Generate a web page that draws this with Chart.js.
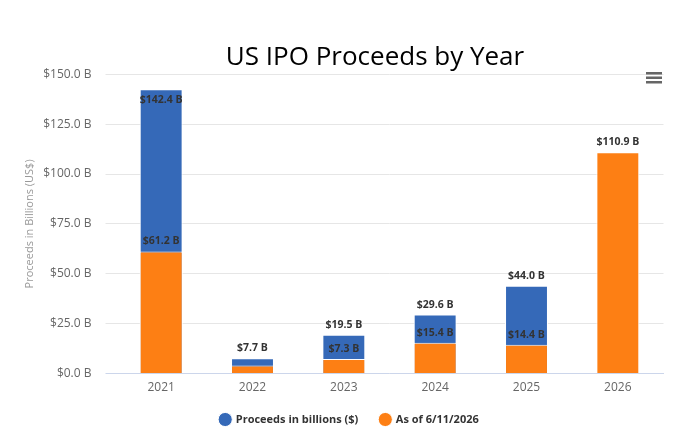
<!DOCTYPE html>
<html>
<head>
<meta charset="utf-8">
<script src="https://cdn.jsdelivr.net/npm/chart.js@4.4.1/dist/chart.umd.min.js"></script>
<style>
  html, body { margin: 0; padding: 0; background: #fff; }
  #wrap { width: 680px; height: 436px; }
</style>
</head>
<body>
<div id="wrap"><canvas id="ipoChart"></canvas></div>
<script>
// data
const years = ['2021', '2022', '2023', '2024', '2025', '2026'];
const fullYear = [142.4, 7.7, 19.5, 29.6, 44.0, null];
const toDate = [61.2, 4.0, 7.3, 15.4, 14.4, 110.9];
const yTicks = [0, 25, 50, 75, 100, 125, 150];

const BLUE = '#3569b8';
const ORANGE = '#fd7f14';

function fmt(v) {
    return '$' + v.toFixed(1) + ' B';
}

// value labels above the bars, hidden when they collide
const barLabels = {
    id: 'barLabels',
    afterDatasetsDraw(chart) {
        const ctx = chart.ctx;
        const area = chart.chartArea;
        const placed = {};
        ctx.save();
        ctx.font = 'bold 10.5px "Open Sans", sans-serif';
        ctx.fillStyle = '#333';
        ctx.textAlign = 'center';
        ctx.textBaseline = 'middle';
        chart.data.datasets.forEach((ds, di) => {
            const meta = chart.getDatasetMeta(di);
            meta.data.forEach((bar, i) => {
                const v = ds.data[i];
                if (v == null) return;
                let y = bar.y - 10;
                if (bar.y - 20 < area.top) y = bar.y + 11; // no room above, put inside
                const prev = placed[i];
                if (prev !== undefined && Math.abs(prev - y) < 12) return;
                placed[i] = y;
                ctx.fillText(fmt(v), bar.x, y);
            });
        });
        ctx.restore();
    }
};

// nudge title and legend sideways like the original, plus the menu icon
const extras = {
    id: 'extras',
    afterLayout(chart) {
        chart.titleBlock.left = 86.5;
        chart.legend.left += 12;
    },
    afterDraw(chart) {
        const ctx = chart.ctx;
        ctx.save();
        ctx.fillStyle = '#666';
        [72, 76.5, 81].forEach(y => ctx.fillRect(646, y, 16, 2.5));
        ctx.restore();
    }
};

const ctx = document.getElementById('ipoChart').getContext('2d');
const chart = new Chart(ctx, {
    type: 'bar',
    data: {
        labels: years,
        datasets: [
            {
                label: 'Proceeds in billions ($)',
                data: fullYear,
                backgroundColor: BLUE,
                borderColor: '#fff',
                borderWidth: 1,
                grouped: false,
                order: 2,
                barPercentage: 0.47,
                categoryPercentage: 1
            },
            {
                label: 'As of 6/11/2026',
                data: toDate,
                backgroundColor: ORANGE,
                borderColor: '#fff',
                borderWidth: 1,
                grouped: false,
                order: 1,
                barPercentage: 0.47,
                categoryPercentage: 1
            }
        ]
    },
    options: {
        responsive: true,
        maintainAspectRatio: false,
        animation: false,
        layout: { padding: { left: 23.5, right: 16.5, top: 0, bottom: 1 } },
        plugins: {
            title: {
                display: true,
                text: 'US IPO Proceeds by Year',
                color: '#000',
                font: { family: '"Open Sans", sans-serif', size: 26, weight: 'normal' },
                padding: { top: 42, bottom: 1 }
            },
            legend: {
                position: 'bottom',
                labels: {
                    usePointStyle: true,
                    pointStyle: 'circle',
                    boxWidth: 10,
                    boxHeight: 10,
                    padding: 22,
                    color: '#333',
                    font: { family: '"Open Sans", sans-serif', size: 11, weight: 'bold' },
                    sort: (a, b) => a.datasetIndex - b.datasetIndex
                }
            },
            tooltip: { enabled: false }
        },
        scales: {
            x: {
                grid: { display: false, drawTicks: false },
                border: { color: '#ccd6eb' },
                afterFit(scale) { scale.height -= 10; },
                ticks: {
                    color: '#666',
                    padding: 7,
                    font: { family: '"Open Sans", sans-serif', size: 12 }
                }
            },
            y: {
                min: 0,
                max: 150,
                afterBuildTicks(scale) {
                    scale.ticks = yTicks.map(v => ({ value: v }));
                },
                afterFit(scale) { scale.width = 92; },
                grid: {
                    color: '#e6e6e6',
                    drawTicks: true,
                    tickLength: 10,
                    tickColor: c => (c.tick && c.tick.value === 0 ? '#ccd6eb' : '#e6e6e6')
                },
                border: { display: false },
                ticks: {
                    color: '#666',
                    padding: 14,
                    font: { family: '"Open Sans", sans-serif', size: 12 },
                    callback: v => fmt(v)
                },
                title: {
                    display: true,
                    text: 'Proceeds in Billions (US$)',
                    color: '#999',
                    padding: 0,
                    font: { family: '"Open Sans", sans-serif', size: 11 }
                }
            }
        }
    },
    plugins: [barLabels, extras]
});
</script>
</body>
</html>
